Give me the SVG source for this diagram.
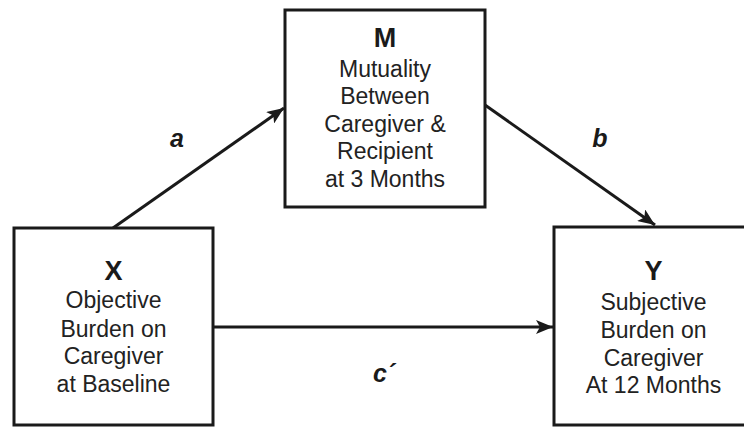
<svg xmlns="http://www.w3.org/2000/svg" width="744" height="428" viewBox="0 0 744 428">
<defs>
<style>
.box{fill:#fff;stroke:#1a1a1a;stroke-width:3}
.t{font-family:"Liberation Sans",Arial,sans-serif;font-size:23px;fill:#222;text-anchor:middle}
.h{font-family:"Liberation Sans",Arial,sans-serif;font-size:27px;font-weight:bold;fill:#1a1a1a;text-anchor:middle}
.lab{font-family:"Liberation Sans",Arial,sans-serif;font-size:25px;font-weight:bold;font-style:italic;fill:#1a1a1a;text-anchor:middle}
.edge{stroke:#1a1a1a;stroke-width:3;fill:none}
</style>
<marker id="arr" markerUnits="userSpaceOnUse" markerWidth="18" markerHeight="14" refX="17" refY="7" orient="auto">
<path d="M0,0 L17,7 L0,14 L4,7 Z" fill="#1a1a1a"/>
</marker>
</defs>
<g id="connectors">
<line class="edge" x1="113" y1="228" x2="284" y2="108" marker-end="url(#arr)"/>
<line class="edge" x1="485" y1="105" x2="655" y2="225" marker-end="url(#arr)"/>
<line class="edge" x1="213" y1="327" x2="553" y2="327" marker-end="url(#arr)"/>
<text class="lab" x="177" y="147">a</text>
<text class="lab" x="600" y="147">b</text>
<text class="lab" x="384" y="382">c´</text>
</g>
<g id="node-M">
<rect class="box" x="285" y="10" width="200" height="197"/>
<text class="h" x="385" y="47">M</text>
<text class="t" x="385" y="77">Mutuality</text>
<text class="t" x="385" y="104">Between</text>
<text class="t" x="385" y="132">Caregiver &amp;</text>
<text class="t" x="385" y="159">Recipient</text>
<text class="t" x="385" y="187">at 3 Months</text>
</g>
<g id="node-X">
<rect class="box" x="14" y="228" width="199" height="197"/>
<text class="h" x="113.5" y="280">X</text>
<text class="t" x="113.5" y="308">Objective</text>
<text class="t" x="113.5" y="337">Burden on</text>
<text class="t" x="113.5" y="364">Caregiver</text>
<text class="t" x="113.5" y="392">at Baseline</text>
</g>
<g id="node-Y">
<rect class="box" x="554" y="227" width="199" height="198"/>
<text class="h" x="653.5" y="280">Y</text>
<text class="t" x="653.5" y="310">Subjective</text>
<text class="t" x="653.5" y="338">Burden on</text>
<text class="t" x="653.5" y="366">Caregiver</text>
<text class="t" x="653.5" y="393">At 12 Months</text>
</g>
</svg>
